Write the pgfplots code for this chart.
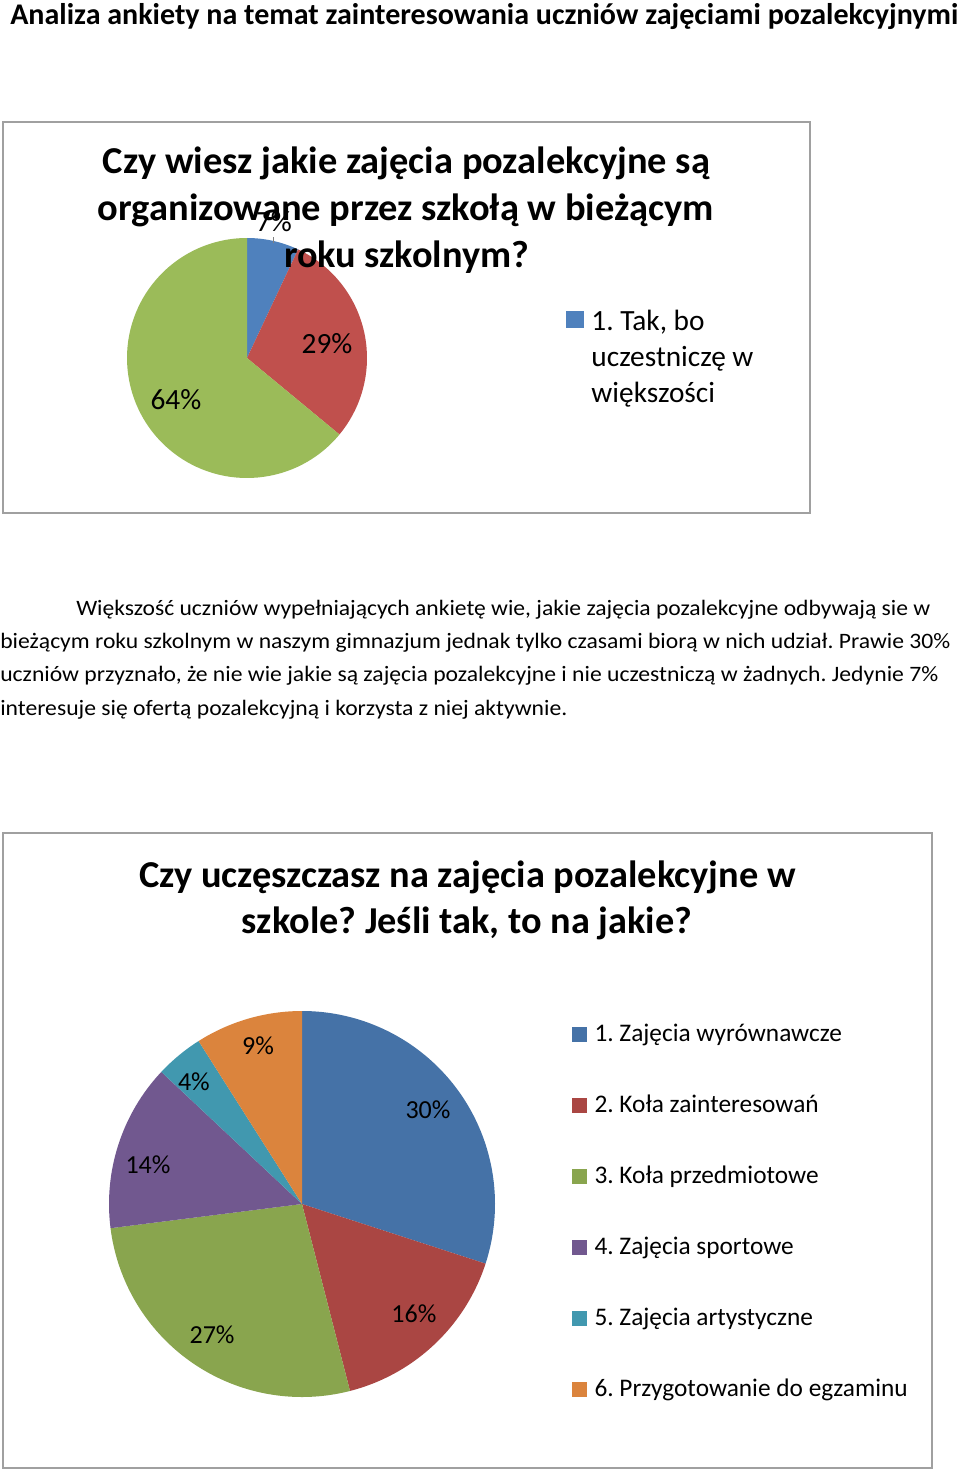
\documentclass[border=0pt]{standalone}
\usepackage{pgfplots}
\pgfplotsset{compat=1.18}
\usepackage{pgfplotstable}
\usepackage{graphicx}
\usepackage{fontspec}
\setmainfont{Carlito}
\frenchspacing

\definecolor{aA}{HTML}{4F81BD}
\definecolor{aB}{HTML}{C0504D}
\definecolor{aC}{HTML}{9BBB59}
\definecolor{bA}{HTML}{4572A7}
\definecolor{bB}{HTML}{AA4643}
\definecolor{bC}{HTML}{89A54E}
\definecolor{bD}{HTML}{71588F}
\definecolor{bE}{HTML}{4198AF}
\definecolor{bF}{HTML}{DB843D}
\definecolor{boxgray}{HTML}{A0A0A0}

% chart 1: percentages, colour, label position (in radii)
\pgfplotstableread{
pct col lx ly
7 aA 0.225 1.133
29 aB 0.667 0.117
64 aC -0.592 -0.35
}\pieone

% chart 2
\pgfplotstableread{
pct col lx ly
30 bA 0.653 0.487
16 bB 0.58 -0.57
27 bC -0.466 -0.679
14 bD -0.798 0.202
4 bE -0.56 0.632
9 bF -0.228 0.819
}\pietwo

\newcommand\labA{\fontsize{22pt}{26pt}\selectfont}
\newcommand\labB{\fontsize{19.5pt}{23pt}\selectfont}

% draw a pie from a table: #1 table, #2 radius, #3 label font macro
\newcommand\drawpie[3]{%
  \pgfplotstablegetrowsof{#1}%
  \pgfmathtruncatemacro\lastrow{\pgfplotsretval-1}%
  \def\cum{0}%
  \pgfplotsforeachungrouped \i in {0,...,\lastrow}{%
    \pgfplotstablegetelem{\i}{pct}\of#1\let\pct\pgfplotsretval
    \pgfplotstablegetelem{\i}{col}\of#1\let\col\pgfplotsretval
    \pgfmathsetmacro\sa{90-3.6*\cum}%
    \pgfmathsetmacro\ea{90-3.6*(\cum+\pct)}%
    \pgfmathsetmacro\cum{\cum+\pct}%
    \edef\temp{\noexpand\fill[\col] (axis cs:0,0) -- (axis cs:{cos(\sa)},{sin(\sa)}) arc[start angle=\sa, end angle=\ea, radius=#2] -- cycle;}%
    \temp
  }%
  \pgfplotsforeachungrouped \i in {0,...,\lastrow}{%
    \pgfplotstablegetelem{\i}{pct}\of#1\let\pct\pgfplotsretval
    \pgfplotstablegetelem{\i}{lx}\of#1\let\lx\pgfplotsretval
    \pgfplotstablegetelem{\i}{ly}\of#1\let\ly\pgfplotsretval
    \edef\temp{\noexpand\node[font=\noexpand#3, inner sep=0pt] at (axis cs:\lx,\ly) {\pct\noexpand\%};}%
    \temp
  }%
}

\begin{document}
\begin{tikzpicture}[x=0.75pt, y=0.75pt]
\fill[white] (0,0) rectangle (960,-1469);
\path[use as bounding box] (0,0) rectangle (960,-1469);
\coordinate (c1) at (247,-358);
\coordinate (c2) at (302,-1204);

% page title
\node[anchor=base west, inner sep=0pt] at (10,-25)
  {\resizebox{711pt}{\height}{\fontsize{22.5pt}{27pt}\selectfont\bfseries Analiza ankiety na temat zainteresowania uczniów zajęciami pozalekcyjnymi}};

% ---------- chart 1 ----------
\draw[boxgray, line width=1.2pt, fill=white] (3,-122) rectangle (810,-513);
\begin{axis}[
  at={(c1)}, anchor=center,
  scale only axis, width=180pt, height=180pt,
  xmin=-1, xmax=1, ymin=-1, ymax=1,
  hide axis, clip=false,
  legend style={at={(axis description cs:1.829,0.70)}, anchor=north west,
    draw=none, fill=none, inner sep=0pt, outer sep=0pt,
    font=\fontsize{22pt}{27pt}\selectfont,
    nodes={inner sep=0pt, align=left},
    /tikz/every odd column/.append style={column sep=6pt}},
  legend cell align=left,
]
\drawpie{\pieone}{90pt}{\labA}
\draw[gray, line width=0.6pt] (axis cs:0.217,0.96) -- (axis cs:0.217,1.01);
\addlegendimage{legend image code/.code={\fill[aA] (0pt,22.6pt) rectangle (12.75pt,34.6pt);}}
\addlegendentry{1. Tak, bo\\uczestniczę w\\większości}
\end{axis}

\begin{scope}[every node/.style={anchor=base, inner sep=0pt}]
\node at (406.5,-174) {\resizebox{455.25pt}{\height}{\fontsize{28.5pt}{34pt}\selectfont\bfseries Czy wiesz jakie zajęcia pozalekcyjne są}};
\node at (406,-221) {\resizebox{462pt}{\height}{\fontsize{28.5pt}{34pt}\selectfont\bfseries organizowane przez szkołą w bieżącym}};
\node at (406.5,-268) {\resizebox{183.75pt}{\height}{\fontsize{28.5pt}{34pt}\selectfont\bfseries roku szkolnym?}};
\end{scope}

% ---------- paragraph ----------
\begin{scope}[every node/.style={anchor=base west, inner sep=0pt}]
\node at (76,-615) {\resizebox{640.5pt}{\height}{\fontsize{16.5pt}{20pt}\selectfont Większość uczniów wypełniających ankietę wie, jakie zajęcia pozalekcyjne odbywają sie w}};
\node at (0,-648) {\resizebox{712.5pt}{\height}{\fontsize{16.5pt}{20pt}\selectfont bieżącym roku szkolnym w naszym gimnazjum jednak tylko czasami biorą w nich udział. Prawie 30\%}};
\node at (0,-681) {\resizebox{703.5pt}{\height}{\fontsize{16.5pt}{20pt}\selectfont uczniów przyznało, że nie wie jakie są zajęcia pozalekcyjne i nie uczestniczą w żadnych. Jedynie 7\%}};
\node at (0,-715) {\resizebox{425.25pt}{\height}{\fontsize{16.5pt}{20pt}\selectfont interesuje się ofertą pozalekcyjną i korzysta z niej aktywnie.}};
\end{scope}

% ---------- chart 2 ----------
\draw[boxgray, line width=1.2pt, fill=white] (3,-833) rectangle (932,-1468);
\begin{axis}[
  at={(c2)}, anchor=center,
  scale only axis, width=289.5pt, height=289.5pt,
  xmin=-1, xmax=1, ymin=-1, ymax=1,
  hide axis, clip=false,
  legend style={at={(axis description cs:1.1995,0.972)}, anchor=north west,
    draw=none, fill=none, inner sep=0pt, outer sep=0pt,
    font=\fontsize{19pt}{23pt}\selectfont,
    row sep=34.75pt,
    nodes={inner sep=0pt, text height=14.5pt, text depth=4pt},
    /tikz/every odd column/.append style={column sep=6pt}},
  legend cell align=left,
]
\drawpie{\pietwo}{144.75pt}{\labB}
\addlegendimage{legend image code/.code={\fill[bA] (0pt,-5pt) rectangle (10.5pt,5pt);}}
\addlegendentry{1. Zajęcia wyrównawcze}
\addlegendimage{legend image code/.code={\fill[bB] (0pt,-5pt) rectangle (10.5pt,5pt);}}
\addlegendentry{2. Koła zainteresowań}
\addlegendimage{legend image code/.code={\fill[bC] (0pt,-5pt) rectangle (10.5pt,5pt);}}
\addlegendentry{3. Koła przedmiotowe}
\addlegendimage{legend image code/.code={\fill[bD] (0pt,-5pt) rectangle (10.5pt,5pt);}}
\addlegendentry{4. Zajęcia sportowe}
\addlegendimage{legend image code/.code={\fill[bE] (0pt,-5pt) rectangle (10.5pt,5pt);}}
\addlegendentry{5. Zajęcia artystyczne}
\addlegendimage{legend image code/.code={\fill[bF] (0pt,-5pt) rectangle (10.5pt,5pt);}}
\addlegendentry{6. Przygotowanie do egzaminu}
\end{axis}

\begin{scope}[every node/.style={anchor=base, inner sep=0pt}]
\node at (467.5,-887) {\resizebox{492.75pt}{\height}{\fontsize{28.5pt}{34pt}\selectfont\bfseries Czy uczęszczasz na zajęcia pozalekcyjne w}};
\node at (467,-933) {\resizebox{337.5pt}{\height}{\fontsize{28.5pt}{34pt}\selectfont\bfseries szkole? Jeśli tak, to na jakie?}};
\end{scope}
\end{tikzpicture}
\end{document}
